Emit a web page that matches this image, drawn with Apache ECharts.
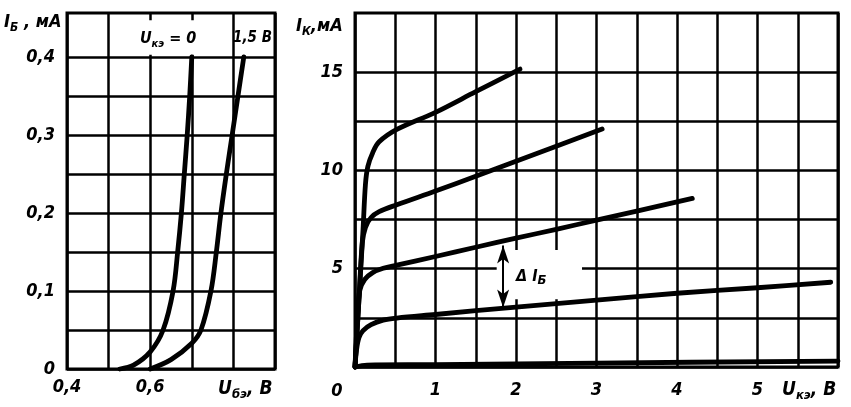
<!DOCTYPE html>
<html><head><meta charset="utf-8">
<script src="https://cdn.jsdelivr.net/npm/echarts@6/dist/echarts.min.js"></script>
<style>html,body{margin:0;padding:0;background:#fff}#c{width:851px;height:407px}</style>
</head><body><div id="c"></div>
<script>
// ---- Input characteristics I_Б(U_бэ) ----
const inputCurveU0 = [[0.527,0],[0.56,0.005],[0.6,0.022],[0.631,0.05],[0.655,0.1],[0.666,0.15],[0.675,0.2],[0.682,0.25],[0.689,0.3],[0.695,0.35],[0.7,0.4]];
const inputCurveU15 = [[0.6,0],[0.65,0.012],[0.7,0.033],[0.722,0.05],[0.746,0.1],[0.759,0.15],[0.77,0.2],[0.783,0.25],[0.797,0.3],[0.811,0.35],[0.825,0.4]];
const inputXTicks = [0.4,0.5,0.6,0.7,0.8,0.9];
const inputXLabels = [0.4,0.6];
const inputYTicks = [0,0.05,0.1,0.15,0.2,0.25,0.3,0.35,0.4];
const inputYLabels = [0,0.1,0.2,0.3,0.4];
// ---- Output characteristics I_К(U_кэ) ----
const outCurve0 = [[0,0],[0.15,0.1],[1,0.12],[3,0.2],[6,0.3]];
const outCurve1 = [[0,0],[0.05,3.5],[0.1,7],[0.13,9.3],[0.16,10.2],[0.22,10.9],[0.3,11.45],[0.52,12.08],[1,12.95],[1.5,14.0],[2.05,15.15]];
const outCurve2 = [[0,0],[0.05,3.5],[0.09,6.3],[0.13,7.1],[0.2,7.6],[0.3,7.9],[0.52,8.25],[1,8.95],[1.5,9.7],[2,10.46],[2.5,11.23],[3.07,12.1]];
const outCurve3 = [[0,0],[0.03,2.5],[0.06,3.9],[0.12,4.45],[0.22,4.8],[0.35,5.02],[0.52,5.18],[1,5.62],[1.5,6.09],[2,6.55],[2.5,7.0],[3,7.47],[3.5,7.93],[4.19,8.57]];
const outCurve4 = [[0,0],[0.02,0.9],[0.05,1.5],[0.1,1.85],[0.2,2.15],[0.35,2.38],[0.52,2.49],[1,2.67],[2,3.05],[3,3.4],[4,3.75],[5,4.03],[5.91,4.31]];
const outXTicks = [0,0.5,1,1.5,2,2.5,3,3.5,4,4.5,5,5.5,6];
const outXLabels = [1,2,3,4,5];
const outYTicks = [0,2.5,5,7.5,10,12.5,15];
const outYLabels = [5,10,15];
// annotation (data units)
const deltaArrow = [[1.84,6.18],[1.84,3.02]];
const deltaLabelAt = [2.19,4.58];
const deltaBox = [[1.76,5.95],[2.82,3.45]];
const u0LabelAt = [0.643,0.423];
const u0Box = [[0.552,0.447],[0.717,0.403]];
const u15LabelAt = [0.846,0.424];

const FONT = "'DejaVu Sans Condensed','DejaVu Sans',sans-serif";
const INK = '#000';
function richSet(big, small) {
  return {
    b: {fontSize: big, fontStyle:'italic', fontWeight:'bold', fontFamily: FONT, color: INK, fill: INK, lineHeight: big + 5, verticalAlign:'middle'},
    s: {fontSize: small, fontStyle:'italic', fontWeight:'bold', fontFamily: FONT, color: INK, fill: INK, lineHeight: small, verticalAlign:'bottom'}
  };
}
const labelStyle = {fontFamily: FONT, fontStyle:'italic', fontWeight:'bold', fontSize:18, color: INK};
const comma = v => (v === 0 ? '0' : (Math.round(v*10)/10).toString().replace('.', ','));
const curveStyle = {color: INK, width: 4.8, cap:'round', join:'round'};

function curve(name, data, gi, extra) {
  return Object.assign({
    name, type:'line', xAxisIndex: gi, yAxisIndex: gi, data, showSymbol:false, symbol:'none',
    smooth: 0.35, clip:false, lineStyle: curveStyle, silent:true, animation:false, z: 3
  }, extra || {});
}
function textPoint(coord, fmt, big, small) {
  return {
    symbol:'circle', symbolSize:1, itemStyle:{color:'rgba(0,0,0,0)'},
    label:{show:true, position:'inside', formatter: fmt, rich: richSet(big, small)},
    data:[{coord}]
  };
}

const chart = echarts.init(document.getElementById('c'), null, {renderer:'canvas'});
const option = {
  animation:false,
  backgroundColor:'#fff',
  grid:[
    {left:67, top:13, width:208, height:356, show:true, borderColor:INK, borderWidth:3, backgroundColor:'transparent'},
    {left:355, top:13, width:483, height:354, show:true, borderColor:INK, borderWidth:3, backgroundColor:'transparent'}
  ],
  xAxis:[
    {type:'value', gridIndex:0, min:0.4, max:0.9, axisLine:{show:false},
     axisTick:{show:false, customValues: inputXTicks},
     axisLabel:Object.assign({customValues: inputXLabels, margin:9, formatter: comma}, labelStyle),
     splitLine:{show:true, lineStyle:{color:INK, width:2.5}}},
    {type:'value', gridIndex:1, min:0, max:6, axisLine:{show:false},
     axisTick:{show:false, customValues: outXTicks},
     axisLabel:Object.assign({customValues: outXLabels, margin:14, formatter: v => String(v)}, labelStyle),
     splitLine:{show:true, lineStyle:{color:INK, width:2.5}}}
  ],
  yAxis:[
    {type:'value', gridIndex:0, min:0, max:0.4564, axisLine:{show:false},
     axisTick:{show:false, customValues: inputYTicks},
     axisLabel:Object.assign({customValues: inputYLabels, margin:12, formatter: comma}, labelStyle),
     splitLine:{show:true, lineStyle:{color:INK, width:2.5}}},
    {type:'value', gridIndex:1, min:0, max:18, axisLine:{show:false},
     axisTick:{show:false, customValues: outYTicks},
     axisLabel:Object.assign({customValues: outYLabels, margin:12, formatter: v => String(v)}, labelStyle),
     splitLine:{show:true, lineStyle:{color:INK, width:2.5}}}
  ],
  series:[
    curve('Uкэ=0', inputCurveU0, 0, {
      markArea:{silent:true, itemStyle:{color:'#fff'}, data:[[{coord:u0Box[0]},{coord:u0Box[1]}]]},
      markPoint: textPoint(u0LabelAt, '{b|U}{s|кэ}{b| = 0}', 16, 11)
    }),
    curve('Uкэ=1,5 В', inputCurveU15, 0, {
      markPoint: textPoint(u15LabelAt, '{b|1,5 В}', 15, 11)
    }),
    curve('Iб0', outCurve0, 1),
    curve('Iб1', outCurve1, 1),
    curve('Iб2', outCurve2, 1),
    curve('Iб3', outCurve3, 1),
    curve('Iб4', outCurve4, 1, {
      markArea:{silent:true, itemStyle:{color:'#fff'}, data:[[{coord:deltaBox[0]},{coord:deltaBox[1]}]]},
      markLine:{silent:true, symbol:['arrow','arrow'], symbolSize:[9,18], lineStyle:{color:INK, width:2, type:'solid'},
        label:{show:false}, data:[[{coord:deltaArrow[0]},{coord:deltaArrow[1]}]]},
      markPoint: textPoint(deltaLabelAt, '{b|Δ I}{s|Б}', 16, 13)
    })
  ],
  graphic:[
    {type:'text', x:4, y:22, style:{text:'{b|I}{s|Б}{b| , мА}', rich:richSet(18,12), verticalAlign:'middle'}},
    {type:'text', x:296, y:26, style:{text:'{b|I}{s|К}{b|,мА}', rich:richSet(18,12), verticalAlign:'middle'}},
    {type:'text', x:218, y:389, style:{text:'{b|U}{s|бэ}{b|, В}', rich:richSet(19,13), verticalAlign:'middle'}},
    {type:'text', x:782, y:390, style:{text:'{b|U}{s|кэ}{b|, В}', rich:richSet(19,13), verticalAlign:'middle'}},
    {type:'text', x:337, y:391, style:{text:'0', fontFamily:FONT, fontStyle:'italic', fontWeight:'bold', fontSize:18, fill:INK, align:'center', verticalAlign:'middle'}}
  ]
};
chart.setOption(option);
</script></body></html>
